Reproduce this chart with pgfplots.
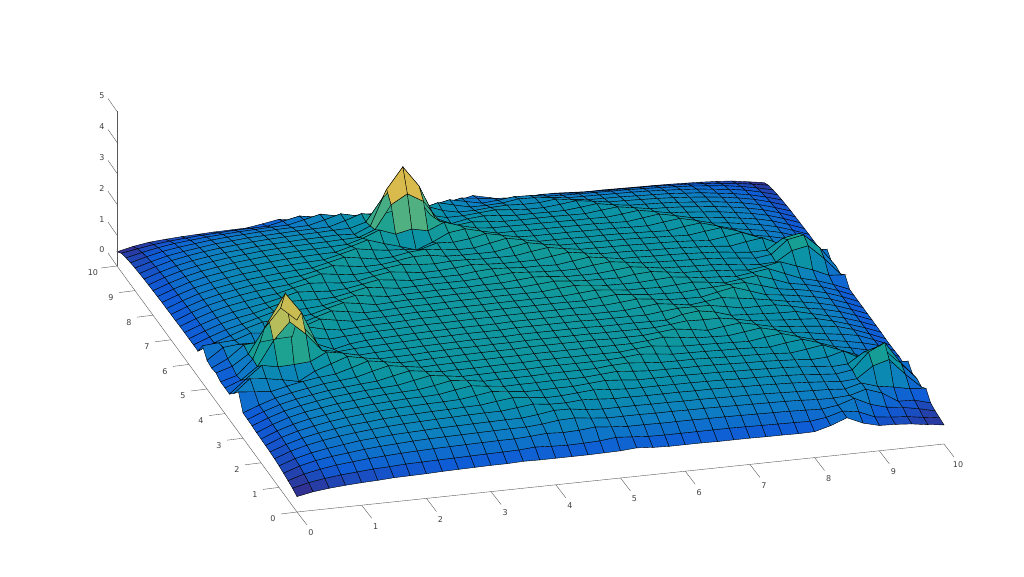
\documentclass[border=0pt]{standalone}
\usepackage{fontspec}
\setmainfont{DejaVu Sans}
\usepackage{pgfplots}
\pgfplotsset{compat=1.18}
\pgfplotsset{colormap={parula}{rgb255=(53,42,135) rgb255=(15,92,215) rgb255=(14,125,195) rgb255=(10,145,168) rgb255=(24,160,146) rgb255=(95,180,125) rgb255=(175,190,95) rgb255=(240,185,65) rgb255=(252,206,46) rgb255=(249,251,14)}}

% surface heights: one \R per y (0, 0.25, ... 10), 41 values for x = 0, 0.25, ... 10
\newcount\ix \newcount\iy
\def\pts{}
\newcommand\R[1]{\ix=0
  \pgfplotsforeachungrouped \zz in {#1}{%
    \pgfmathsetmacro\xx{0.25*\ix}\pgfmathsetmacro\yy{0.25*\iy}%
    \xdef\pts{\pts (\xx,\yy,\zz) }\advance\ix by 1 }%
  \ifnum\ix=41 \else\errmessage{row \the\iy\space has \the\ix\space values}\fi
  \advance\iy by 1 }
\R{.50,.60,.66,.70,.73,.75,.78,.79,.80,.82,.83,.84,.85,.85,.87,.86,.86,.86,.86,.87,.88,.92,.88,.86,.86,.86,.85,.85,.85,.84,.84,.83,.84,.98,1.18,.95,.82,.80,.76,.68,.62}
\R{.57,.70,.78,.84,.88,.92,.94,.97,.98,.99,1.00,1.01,1.02,1.03,1.04,1.08,1.05,1.03,1.04,1.06,1.12,1.08,1.04,1.03,1.03,1.03,1.03,1.03,1.02,1.01,1.00,.99,.98,1.05,1.20,1.12,.90,.84,.80,.72,.65}
\R{.62,.78,.88,.96,1.01,1.06,1.09,1.12,1.14,1.16,1.17,1.18,1.19,1.20,1.20,1.23,1.27,1.24,1.26,1.31,1.26,1.22,1.22,1.21,1.21,1.21,1.20,1.20,1.19,1.18,1.17,1.16,1.14,1.12,1.19,1.36,1.11,.96,.90,.80,.68}
\R{.66,.84,.96,1.04,1.10,1.16,1.20,1.23,1.26,1.28,1.29,1.30,1.31,1.32,1.33,1.33,1.37,1.44,1.46,1.40,1.35,1.35,1.35,1.34,1.34,1.33,1.33,1.32,1.31,1.30,1.29,1.28,1.26,1.23,1.22,1.25,1.40,1.22,.90,.88,.74}
\R{.70,.88,1.01,1.10,1.17,1.24,1.28,1.32,1.34,1.36,1.38,1.39,1.40,1.41,1.42,1.42,1.48,1.56,1.55,1.47,1.44,1.44,1.44,1.43,1.43,1.42,1.42,1.41,1.40,1.39,1.38,1.36,1.34,1.32,1.30,1.26,1.40,1.24,1.16,1.05,1.00}
\R{.73,.92,1.06,1.16,1.24,1.30,1.35,1.39,1.42,1.44,1.46,1.47,1.49,1.50,1.50,1.56,1.62,1.56,1.55,1.59,1.56,1.52,1.52,1.51,1.51,1.51,1.50,1.50,1.49,1.47,1.46,1.44,1.42,1.39,1.35,1.30,1.34,1.70,1.85,1.32,.85}
\R{.75,.94,1.09,1.20,1.28,1.35,1.39,1.44,1.47,1.49,1.51,1.52,1.54,1.55,1.62,1.68,1.63,1.57,1.58,1.62,1.66,1.62,1.58,1.57,1.57,1.56,1.56,1.55,1.54,1.52,1.51,1.49,1.47,1.44,1.39,1.35,1.43,1.95,2.20,1.49,.92}
\R{.76,.97,1.12,1.23,1.32,1.39,1.44,1.49,1.52,1.54,1.56,1.57,1.59,1.66,1.74,1.68,1.62,1.62,1.63,1.63,1.67,1.71,1.67,1.62,1.62,1.62,1.61,1.60,1.59,1.57,1.56,1.54,1.52,1.49,1.44,1.39,1.42,1.75,1.90,1.37,.88}
\R{.77,.98,1.14,1.26,1.34,1.42,1.47,1.52,1.55,1.58,1.59,1.61,1.70,1.78,1.71,1.65,1.66,1.66,1.67,1.67,1.67,1.71,1.75,1.70,1.66,1.65,1.64,1.64,1.63,1.61,1.59,1.58,1.55,1.52,1.47,1.50,1.64,1.36,1.29,1.08,1.09}
\R{.78,.99,1.16,1.28,1.36,1.44,1.49,1.54,1.58,1.60,1.62,1.70,1.80,1.75,1.67,1.68,1.68,1.68,1.70,1.70,1.70,1.70,1.75,1.77,1.72,1.68,1.67,1.67,1.65,1.63,1.62,1.60,1.58,1.54,1.61,1.69,1.48,1.28,1.06,.99,.82}
\R{.80,1.00,1.17,1.29,1.38,1.46,1.51,1.56,1.59,1.62,1.72,1.82,1.75,1.68,1.69,1.70,1.70,1.70,1.72,1.72,1.72,1.72,1.72,1.75,1.80,1.75,1.69,1.68,1.67,1.65,1.64,1.62,1.59,1.67,1.73,1.57,1.38,1.29,1.17,1.02,.85}
\R{.81,1.01,1.18,1.30,1.39,1.47,1.52,1.57,1.61,1.72,1.83,1.76,1.69,1.70,1.70,1.71,1.72,1.72,1.73,1.73,1.73,1.73,1.73,1.72,1.77,1.81,1.75,1.70,1.69,1.67,1.65,1.63,1.71,1.77,1.62,1.47,1.39,1.30,1.20,1.06,.83}
\R{.82,1.02,1.19,1.31,1.40,1.49,1.54,1.59,1.73,1.85,1.77,1.69,1.71,1.72,1.73,1.73,1.74,1.74,1.75,1.75,1.75,1.75,1.75,1.74,1.74,1.78,1.84,1.78,1.71,1.69,1.67,1.74,1.81,1.68,1.54,1.49,1.40,1.33,1.24,1.04,.82}
\R{1.30,1.25,1.20,1.32,1.42,1.50,1.55,1.70,1.86,1.78,1.69,1.70,1.72,1.73,1.74,1.75,1.75,1.75,1.77,1.77,1.77,1.77,1.77,1.75,1.75,1.75,1.80,1.85,1.78,1.70,1.77,1.83,1.72,1.60,1.55,1.50,1.45,1.38,1.23,1.03,.82}
\R{1.05,1.48,1.42,1.33,1.22,1.50,1.68,1.86,1.76,1.67,1.69,1.70,1.73,1.74,1.75,1.75,1.76,1.76,1.77,1.77,1.77,1.77,1.77,1.76,1.76,1.75,1.75,1.80,1.86,1.84,1.84,1.75,1.64,1.61,1.56,1.53,1.49,1.36,1.20,1.03,.83}
\R{.83,1.25,1.65,1.55,1.57,1.61,1.86,1.77,1.65,1.68,1.70,1.71,1.73,1.74,1.75,1.76,1.76,1.76,1.78,1.78,1.78,1.78,1.78,1.76,1.76,1.76,1.75,1.74,1.87,1.93,1.84,1.68,1.65,1.62,1.59,1.58,1.45,1.33,1.20,1.03,.83}
\R{.83,1.03,1.41,2.20,2.75,2.30,1.72,1.62,1.66,1.68,1.70,1.72,1.74,1.75,1.76,1.77,1.77,1.77,1.79,1.79,1.79,1.79,1.79,1.77,1.77,1.77,1.76,1.82,1.87,1.86,1.85,1.76,1.66,1.66,1.65,1.55,1.43,1.34,1.21,1.03,.83}
\R{.83,.98,1.46,2.65,3.47,2.80,1.72,1.50,1.62,1.68,1.70,1.72,1.74,1.75,1.76,1.77,1.77,1.77,1.79,1.79,1.79,1.79,1.79,1.77,1.77,1.77,1.82,1.87,1.80,1.72,1.78,1.85,1.78,1.70,1.61,1.51,1.43,1.34,1.21,1.03,.83}
\R{.92,1.08,1.42,2.20,2.80,2.35,1.73,1.63,1.67,1.70,1.72,1.73,1.75,1.77,1.77,1.78,1.79,1.79,1.80,1.80,1.80,1.80,1.80,1.79,1.79,1.83,1.88,1.82,1.75,1.73,1.72,1.83,1.93,1.76,1.58,1.52,1.44,1.35,1.22,1.04,.83}
\R{.88,1.13,1.52,1.55,1.60,1.62,1.88,1.75,1.67,1.70,1.72,1.73,1.75,1.77,1.77,1.78,1.79,1.79,1.80,1.80,1.80,1.80,1.80,1.79,1.84,1.88,1.82,1.77,1.75,1.73,1.77,1.79,1.82,1.83,1.68,1.52,1.44,1.35,1.22,1.04,.83}
\R{.93,1.29,1.34,1.33,1.24,1.50,1.70,1.88,1.79,1.70,1.72,1.73,1.75,1.77,1.77,1.78,1.79,1.79,1.80,1.80,1.80,1.80,1.80,1.84,1.88,1.83,1.77,1.77,1.75,1.78,1.81,1.75,1.67,1.74,1.80,1.63,1.44,1.35,1.22,1.04,.83}
\R{1.20,1.24,1.27,1.45,1.39,1.52,1.58,1.74,1.89,1.81,1.72,1.73,1.75,1.77,1.77,1.78,1.79,1.79,1.80,1.80,1.80,1.80,1.85,1.89,1.84,1.78,1.77,1.77,1.80,1.83,1.77,1.70,1.67,1.63,1.70,1.77,1.56,1.35,1.22,1.04,.83}
\R{.83,1.04,1.22,1.40,1.55,1.58,1.58,1.63,1.77,1.90,1.82,1.73,1.75,1.77,1.77,1.78,1.79,1.79,1.80,1.80,1.80,1.84,1.88,1.83,1.79,1.78,1.77,1.83,1.86,1.79,1.72,1.70,1.67,1.63,1.58,1.64,1.74,1.55,1.37,1.14,1.10}
\R{.83,1.03,1.21,1.34,1.49,1.63,1.63,1.62,1.66,1.77,1.88,1.81,1.74,1.75,1.76,1.77,1.77,1.77,1.79,1.79,1.83,1.87,1.83,1.77,1.77,1.77,1.82,1.87,1.80,1.72,1.70,1.68,1.66,1.62,1.57,1.51,1.53,1.85,1.95,1.48,.93}
\R{.83,1.03,1.21,1.34,1.43,1.57,1.70,1.69,1.66,1.68,1.78,1.89,1.82,1.75,1.76,1.77,1.77,1.77,1.79,1.83,1.87,1.83,1.79,1.77,1.77,1.84,1.89,1.82,1.74,1.72,1.70,1.68,1.66,1.62,1.57,1.51,1.58,2.00,2.10,1.63,.98}
\R{.83,1.03,1.20,1.33,1.42,1.51,1.63,1.76,1.72,1.68,1.70,1.79,1.88,1.82,1.75,1.76,1.76,1.76,1.82,1.85,1.82,1.78,1.78,1.76,1.83,1.90,1.82,1.74,1.73,1.71,1.70,1.68,1.65,1.62,1.56,1.51,1.52,1.85,1.95,1.48,.93}
\R{.83,1.03,1.20,1.33,1.42,1.50,1.56,1.69,1.79,1.75,1.69,1.70,1.80,1.88,1.82,1.75,1.76,1.79,1.84,1.80,1.77,1.77,1.77,1.84,1.91,1.83,1.75,1.74,1.73,1.70,1.69,1.67,1.64,1.61,1.56,1.65,1.72,1.48,1.35,1.13,1.13}
\R{.82,1.03,1.20,1.32,1.42,1.50,1.55,1.60,1.72,1.84,1.77,1.70,1.72,1.80,1.87,1.81,1.78,1.81,1.80,1.77,1.77,1.77,1.85,1.92,1.83,1.75,1.74,1.73,1.72,1.70,1.69,1.67,1.64,1.60,1.67,1.75,1.54,1.32,1.10,1.03,.82}
\R{.82,1.02,1.19,1.31,1.40,1.49,1.54,1.59,1.63,1.74,1.85,1.78,1.71,1.72,1.79,1.87,1.86,1.77,1.75,1.75,1.75,1.84,1.93,1.83,1.74,1.73,1.73,1.72,1.71,1.69,1.67,1.65,1.63,1.70,1.76,1.60,1.40,1.31,1.19,1.02,.82}
\R{.81,1.01,1.18,1.30,1.39,1.47,1.52,1.57,1.61,1.63,1.75,1.87,1.79,1.70,1.72,1.81,1.85,1.78,1.73,1.73,1.83,1.93,1.83,1.72,1.72,1.71,1.70,1.70,1.69,1.67,1.65,1.63,1.71,1.77,1.62,1.47,1.39,1.30,1.18,1.01,.81}
\R{.81,1.00,1.17,1.29,1.38,1.46,1.51,1.56,1.59,1.62,1.64,1.76,1.89,1.80,1.73,1.70,1.65,1.80,1.77,1.83,1.94,1.83,1.72,1.70,1.70,1.70,1.69,1.68,1.67,1.65,1.64,1.71,1.77,1.65,1.51,1.46,1.38,1.29,1.17,1.00,.81}
\R{.80,.99,1.16,1.28,1.36,1.44,1.49,1.54,1.58,1.60,1.62,1.63,1.77,1.92,1.75,1.60,1.43,1.63,1.88,1.95,1.82,1.70,1.70,1.68,1.68,1.68,1.67,1.67,1.65,1.63,1.70,1.77,1.66,1.54,1.49,1.44,1.36,1.28,1.16,.99,.80}
\R{.79,.98,1.14,1.26,1.34,1.42,1.47,1.52,1.55,1.58,1.59,1.61,1.63,1.78,1.99,1.80,1.91,1.80,2.02,1.85,1.72,1.67,1.67,1.66,1.66,1.65,1.64,1.64,1.63,1.68,1.74,1.65,1.55,1.52,1.47,1.42,1.34,1.26,1.14,.98,.79}
\R{.78,.97,1.12,1.23,1.32,1.39,1.44,1.49,1.52,1.54,1.56,1.57,1.59,1.60,1.80,2.55,2.85,2.55,1.85,1.66,1.72,1.67,1.63,1.62,1.62,1.62,1.61,1.60,1.66,1.71,1.63,1.54,1.52,1.49,1.44,1.39,1.32,1.23,1.12,.97,.78}
\R{.77,.94,1.09,1.20,1.28,1.35,1.39,1.44,1.47,1.49,1.51,1.52,1.54,1.50,1.72,2.85,3.52,2.85,1.75,1.52,1.62,1.66,1.62,1.57,1.57,1.56,1.56,1.61,1.67,1.58,1.51,1.49,1.47,1.44,1.39,1.35,1.28,1.20,1.09,.94,.77}
\R{.75,.92,1.06,1.16,1.24,1.30,1.35,1.39,1.42,1.44,1.46,1.47,1.49,1.50,1.65,2.35,2.85,2.35,1.65,1.52,1.52,1.56,1.60,1.55,1.51,1.51,1.56,1.62,1.55,1.47,1.46,1.44,1.42,1.39,1.35,1.30,1.24,1.16,1.06,.92,.75}
\R{.73,.88,1.01,1.10,1.17,1.24,1.28,1.32,1.34,1.36,1.38,1.39,1.40,1.55,1.72,1.62,1.70,1.62,1.74,1.55,1.44,1.44,1.48,1.50,1.47,1.47,1.53,1.46,1.40,1.39,1.38,1.36,1.34,1.32,1.28,1.24,1.17,1.10,1.01,.88,.73}
\R{.70,.84,.96,1.04,1.10,1.16,1.20,1.23,1.26,1.28,1.29,1.30,1.43,1.57,1.45,1.33,1.24,1.34,1.47,1.60,1.47,1.35,1.35,1.37,1.45,1.43,1.38,1.32,1.31,1.30,1.29,1.28,1.26,1.23,1.20,1.16,1.10,1.04,.96,.84,.70}
\R{.66,.78,.88,.96,1.01,1.06,1.09,1.12,1.14,1.16,1.17,1.29,1.41,1.31,1.20,1.21,1.21,1.21,1.22,1.33,1.44,1.33,1.22,1.26,1.32,1.30,1.23,1.20,1.19,1.18,1.17,1.16,1.14,1.12,1.09,1.06,1.01,.96,.88,.78,.66}
\R{.61,.70,.78,.84,.88,.92,.94,.97,.98,.99,1.10,1.21,1.12,1.03,1.03,1.03,1.03,1.03,1.04,1.04,1.14,1.24,1.18,1.12,1.08,1.06,1.09,1.06,1.02,1.01,1.00,.99,.98,.97,.94,.92,.88,.84,.78,.70,.61}
\R{.46,.58,.66,.70,.73,.75,.77,.78,.79,.87,.96,.88,.82,.82,.83,.83,.83,.83,.83,.83,.83,.95,1.07,.95,.83,.83,.85,.87,.84,.81,.81,.80,.79,.78,.77,.75,.73,.70,.66,.58,.50}
\newcommand\drawsurf[1]{\addplot3[surf,shader=faceted,faceted color=black,line width=0.4pt,z buffer=sort,mesh/cols=41,mesh/ordering=x varies,point meta=z] coordinates {#1};}

\begin{document}
\begin{tikzpicture}[x=1pt,y=1pt]
\path[use as bounding box] (0,0) rectangle (1024,576);
\begin{axis}[
  at={(297pt,64pt)},anchor=origin,
  x={(64.7pt,6.8pt)},y={(-18pt,24.6pt)},z={(0pt,30.9pt)},
  xmin=0,xmax=10,ymin=0,ymax=10,zmin=0,zmax=5,
  hide axis,clip=false,
  colormap name=parula,point meta min=0.55,point meta max=3.8,
]
\expandafter\drawsurf\expandafter{\pts}
\pgfplotsinvokeforeach{0,...,10}{
  \draw[gray!70!black,line width=0.4pt] (axis cs:#1,0,0) -- ++(10pt,-13pt);
  \node[text=black!75,font=\fontsize{8}{9}\selectfont,xshift=14pt,yshift=-21pt] at (axis cs:#1,0,0) {#1};
  \draw[gray!70!black,line width=0.4pt] (axis cs:0,#1,0) -- ++(-16pt,-2pt);
  \node[text=black!75,font=\fontsize{8}{9}\selectfont,xshift=-24pt,yshift=-7pt] at (axis cs:0,#1,0) {#1};
}
\pgfplotsinvokeforeach{0,...,5}{
  \draw[gray!70!black,line width=0.4pt] (axis cs:0,10,#1) -- ++(-9pt,13pt);
  \node[text=black!75,font=\fontsize{8}{9}\selectfont,xshift=-15pt,yshift=16pt] at (axis cs:0,10,#1) {#1};
}
\draw[gray!70!black,line width=0.4pt] (axis cs:0,0,0) -- (axis cs:10,0,0);
\draw[gray!70!black,line width=0.4pt] (axis cs:0,0,0) -- (axis cs:0,10,0);
\draw[gray!70!black,line width=0.4pt] (axis cs:0,10,0) -- (axis cs:0,10,5);
\end{axis}
\end{tikzpicture}
\end{document}
